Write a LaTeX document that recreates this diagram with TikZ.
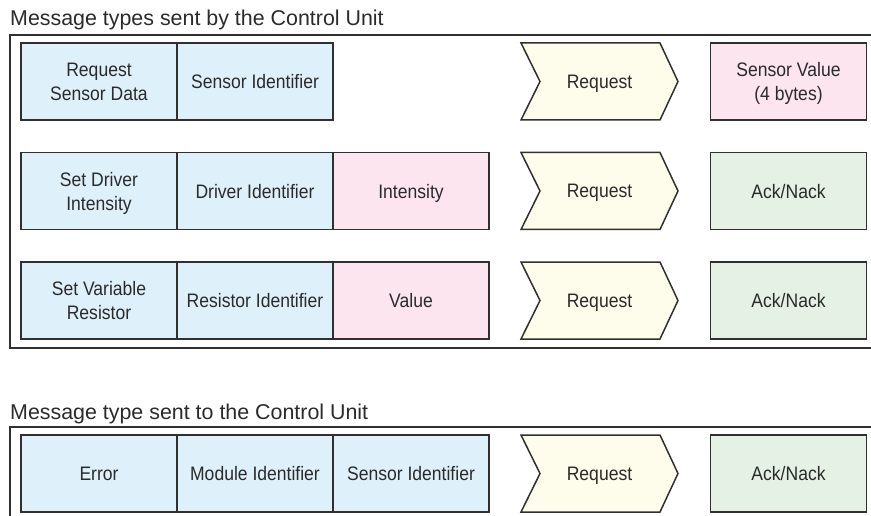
\documentclass[tikz,border=0pt]{standalone}
\usepackage{fontspec}
\setmainfont{Liberation Sans}
\newfontfamily\narrowsans[FakeStretch=0.9]{Liberation Sans}
\definecolor{ln}{HTML}{303030}
\definecolor{tx}{HTML}{2A2A2A}
\definecolor{bluef}{HTML}{DEF1FB}
\definecolor{pinkf}{HTML}{FCE5EF}
\definecolor{yelf}{HTML}{FEFCEA}
\definecolor{grnf}{HTML}{E5F1E4}
\newcommand{\boxfont}{\narrowsans\fontsize{19.5}{24}\selectfont}
\newcommand{\ttlfont}{\fontsize{21.4}{26}\selectfont}
\tikzset{
  fld/.style={draw=ln, line width=1.5pt, minimum width=156pt, minimum height=77pt,
    inner sep=0pt, align=center, font=\boxfont, text=tx, text depth=0pt},
  bluebox/.style={fld, fill=bluef},
  pinkbox/.style={fld, fill=pinkf},
  grnbox/.style={fld, fill=grnf},
  chev/.style={draw=ln, line width=1.5pt, fill=yelf},
  chevtxt/.style={font=\boxfont, text=tx, inner sep=0pt, text depth=0pt},
  frame/.style={draw=ln, line width=1.8pt},
  ttl/.style={font=\ttlfont, text=tx, anchor=base west, inner sep=0pt}
}
\newcommand{\chevron}[3]{% #1 center y, #2 name, #3 text
  \draw[chev] (521,#1-38.5) -- (660,#1-38.5) -- (678,#1) -- (660,#1+38.5)
    -- (521,#1+38.5) -- (540,#1) -- cycle;
  \node[chevtxt] (#2) at (599.5,#1) {#3};
}
\begin{document}
\begin{tikzpicture}[x=1pt,y=-1pt]
\useasboundingbox (0,0) rectangle (871,516);
% titles
\node[ttl] (t1) at (10,26) {Message types sent by the Control Unit};
\node[ttl] (t2) at (10,419) {Message type sent to the Control Unit};
% frames
\draw[frame] (871,35) -- (10,35) -- (10,348) -- (871,348);
\draw[frame] (871,427) -- (10,427) -- (10,516);
% row 1
\node[bluebox] (r1a) at (99,81.5) {Request\\Sensor Data};
\node[bluebox] (r1b) at (255,81.5) {Sensor Identifier};
\chevron{81.5}{r1q}{Request}
\node[pinkbox] (r1r) at (788.5,81.5) {Sensor Value\\(4 bytes)};
% row 2
\node[bluebox] (r2a) at (99,191) {Set Driver\\Intensity};
\node[bluebox] (r2b) at (255,191) {Driver Identifier};
\node[pinkbox] (r2c) at (411,191) {Intensity};
\chevron{191}{r2q}{Request}
\node[grnbox] (r2r) at (788.5,191) {Ack/Nack};
% row 3
\node[bluebox] (r3a) at (99,300.5) {Set Variable\\Resistor};
\node[bluebox] (r3b) at (255,300.5) {Resistor Identifier};
\node[pinkbox] (r3c) at (411,300.5) {Value};
\chevron{300.5}{r3q}{Request}
\node[grnbox] (r3r) at (788.5,300.5) {Ack/Nack};
% row 4
\node[bluebox] (r4a) at (99,473.5) {Error};
\node[bluebox] (r4b) at (255,473.5) {Module Identifier};
\node[bluebox] (r4c) at (411,473.5) {Sensor Identifier};
\chevron{473.5}{r4q}{Request}
\node[grnbox] (r4r) at (788.5,473.5) {Ack/Nack};
\end{tikzpicture}
\end{document}
